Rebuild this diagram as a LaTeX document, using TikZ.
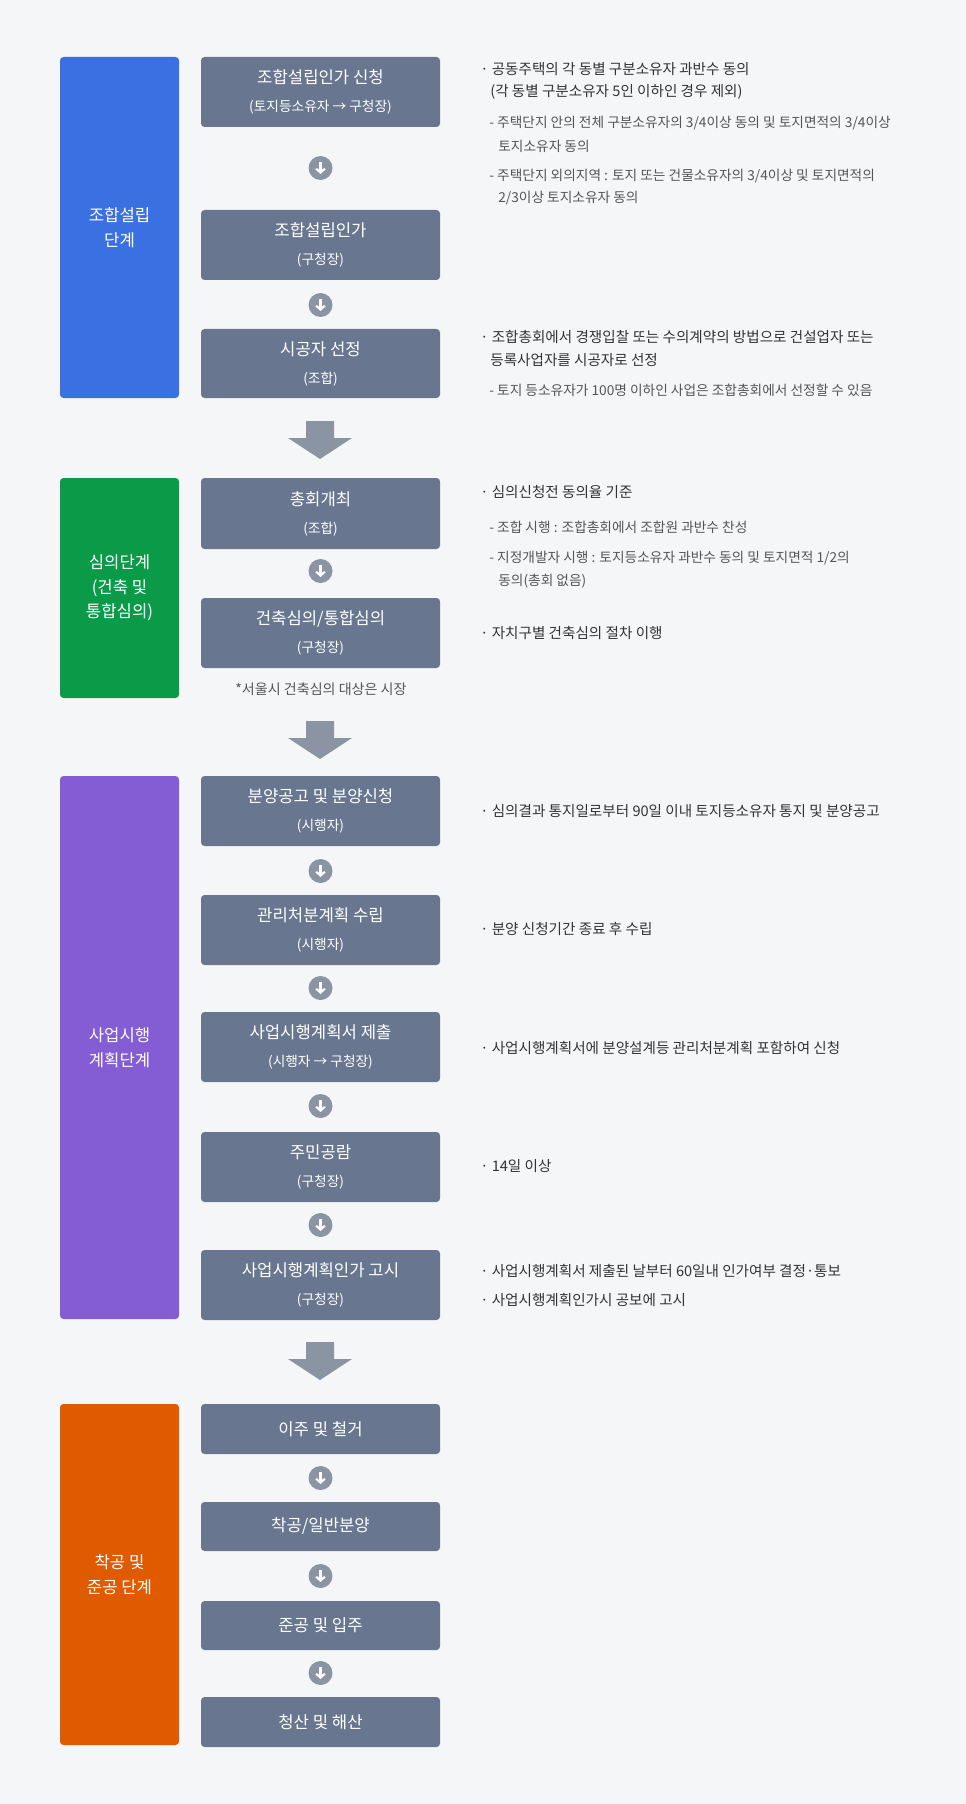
\documentclass[tikz,border=0pt]{standalone}
\usepackage{fontspec}
\setmainfont{Noto Sans CJK KR}
\usetikzlibrary{positioning,arrows.meta}
\definecolor{bgcol}{HTML}{F5F6F8}
\definecolor{boxcol}{HTML}{68778F}
\definecolor{circcol}{HTML}{8A94A3}
\definecolor{bluecol}{HTML}{3A70E2}
\definecolor{greencol}{HTML}{0A9A48}
\definecolor{purplecol}{HTML}{845CD3}
\definecolor{orangecol}{HTML}{E05A00}
\definecolor{txtcol}{HTML}{333333}
\definecolor{subcol}{HTML}{555555}
\begin{document}
\begin{tikzpicture}[x=0.02cm,y=-0.02cm]
    \tikzstyle{phase}=[rounded corners=2pt,text=white,align=center,font=\fontsize{9.5}{14}\selectfont]
    \tikzstyle{circ}=[circle,fill=circcol,minimum size=0.48cm,inner sep=0pt]
    \tikzstyle{note}=[anchor=west,text=txtcol,font=\fontsize{8.3}{10}\selectfont,inner sep=0pt]
    \tikzstyle{subnote}=[anchor=west,text=subcol,font=\fontsize{7.8}{10}\selectfont,inner sep=0pt]
    \fill[bgcol] (0,0) rectangle (966,1804);
    % Phase bars
    \foreach \name/\col/\ya/\yb/\txt in {P1/bluecol/57/398/{조합설립\\단계}, P2/greencol/478/698/{심의단계\\(건축 및\\통합심의)}, P3/purplecol/776/1319/{사업시행\\계획단계}, P4/orangecol/1404/1745/{착공 및\\준공 단계}}
        \path[phase,fill=\col] (60,\ya) rectangle (179,\yb) node[midway] (\name) {\txt};
    % Step boxes
    \foreach \name/\ya/\yb/\txt/\sb in {S1/57/127/{조합설립인가 신청}/{(토지등소유자 → 구청장)}, S2/210/280/{조합설립인가}/{(구청장)}, S3/329/398/{시공자 선정}/{(조합)}, S4/478/549/{총회개최}/{(조합)}, S5/598/668/{건축심의/통합심의}/{(구청장)}, S6/776/846/{분양공고 및 분양신청}/{(시행자)}, S7/895/965/{관리처분계획 수립}/{(시행자)}, S8/1012/1082/{사업시행계획서 제출}/{(시행자 → 구청장)}, S9/1132/1202/{주민공람}/{(구청장)}, S10/1250/1320/{사업시행계획인가 고시}/{(구청장)}}
        \path[fill=boxcol,rounded corners=2pt] (201,\ya) rectangle (440,\yb)
            node[midway,text=white,align=center,font=\fontsize{9.5}{16}\selectfont] (\name) {\txt\\{\fontsize{7.8}{10}\selectfont\sb}};
    \foreach \name/\ya/\yb/\txt in {S11/1404/1454/{이주 및 철거}, S12/1502/1551/{착공/일반분양}, S13/1601/1650/{준공 및 입주}, S14/1697/1747/{청산 및 해산}}
        \path[fill=boxcol,rounded corners=2pt] (201,\ya) rectangle (440,\yb)
            node[midway,text=white,font=\fontsize{9.5}{13}\selectfont] (\name) {\txt};
    % Small arrows between steps
    \foreach \y [count=\i] in {168,305,571,871,988,1106,1225,1478,1576,1673} {
        \node[circ] (C-\i) at (320.5,\y) {};
        \draw[white,line width=1.2pt,-{Straight Barb[length=2.2pt,width=5pt]}] ([yshift=3.6pt]C-\i.center) -- ([yshift=-3.4pt]C-\i.center);
    }
    % Big arrows between phases
    \foreach \y in {421,721,1342}
        \fill[circcol] (306,\y) -- (334,\y) -- (334,\y+17) -- (352,\y+17) -- (320,\y+38) -- (288,\y+17) -- (306,\y+17) -- cycle;
    \node[text=subcol,font=\fontsize{8}{10}\selectfont] (N1) at (321,689) {*서울시 건축심의 대상은 시장};
    % Notes
    \node[note] at (480,69) {· 공동주택의 각 동별 구분소유자 과반수 동의};
    \node[note] at (490,92) {(각 동별 구분소유자 5인 이하인 경우 제외)};
    \node[subnote] at (489,123) {- 주택단지 안의 전체 구분소유자의 3/4이상 동의 및 토지면적의 3/4이상};
    \node[subnote] at (498,146) {토지소유자 동의};
    \node[subnote] at (489,176) {- 주택단지 외의지역 : 토지 또는 건물소유자의 3/4이상 및 토지면적의};
    \node[subnote] at (498,198) {2/3이상 토지소유자 동의};
    \node[note] at (480,337) {· 조합총회에서 경쟁입찰 또는 수의계약의 방법으로 건설업자 또는};
    \node[note] at (490,360) {등록사업자를 시공자로 선정};
    \node[subnote] at (489,390) {- 토지 등소유자가 100명 이하인 사업은 조합총회에서 선정할 수 있음};
    \node[note] at (480,492) {· 심의신청전 동의율 기준};
    \node[subnote] at (489,527) {- 조합 시행 : 조합총회에서 조합원 과반수 찬성};
    \node[subnote] at (489,558) {- 지정개발자 시행 : 토지등소유자 과반수 동의 및 토지면적 1/2의};
    \node[subnote] at (498,581) {동의(총회 없음)};
    \node[note] at (480,633) {· 자치구별 건축심의 절차 이행};
    \node[note] at (480,811) {· 심의결과 통지일로부터 90일 이내 토지등소유자 통지 및 분양공고};
    \node[note] at (480,929) {· 분양 신청기간 종료 후 수립};
    \node[note] at (480,1048) {· 사업시행계획서에 분양설계등 관리처분계획 포함하여 신청};
    \node[note] at (480,1166) {· 14일 이상};
    \node[note] at (480,1271) {· 사업시행계획서 제출된 날부터 60일내 인가여부 결정·통보};
    \node[note] at (480,1300) {· 사업시행계획인가시 공보에 고시};
\end{tikzpicture}
\end{document}
